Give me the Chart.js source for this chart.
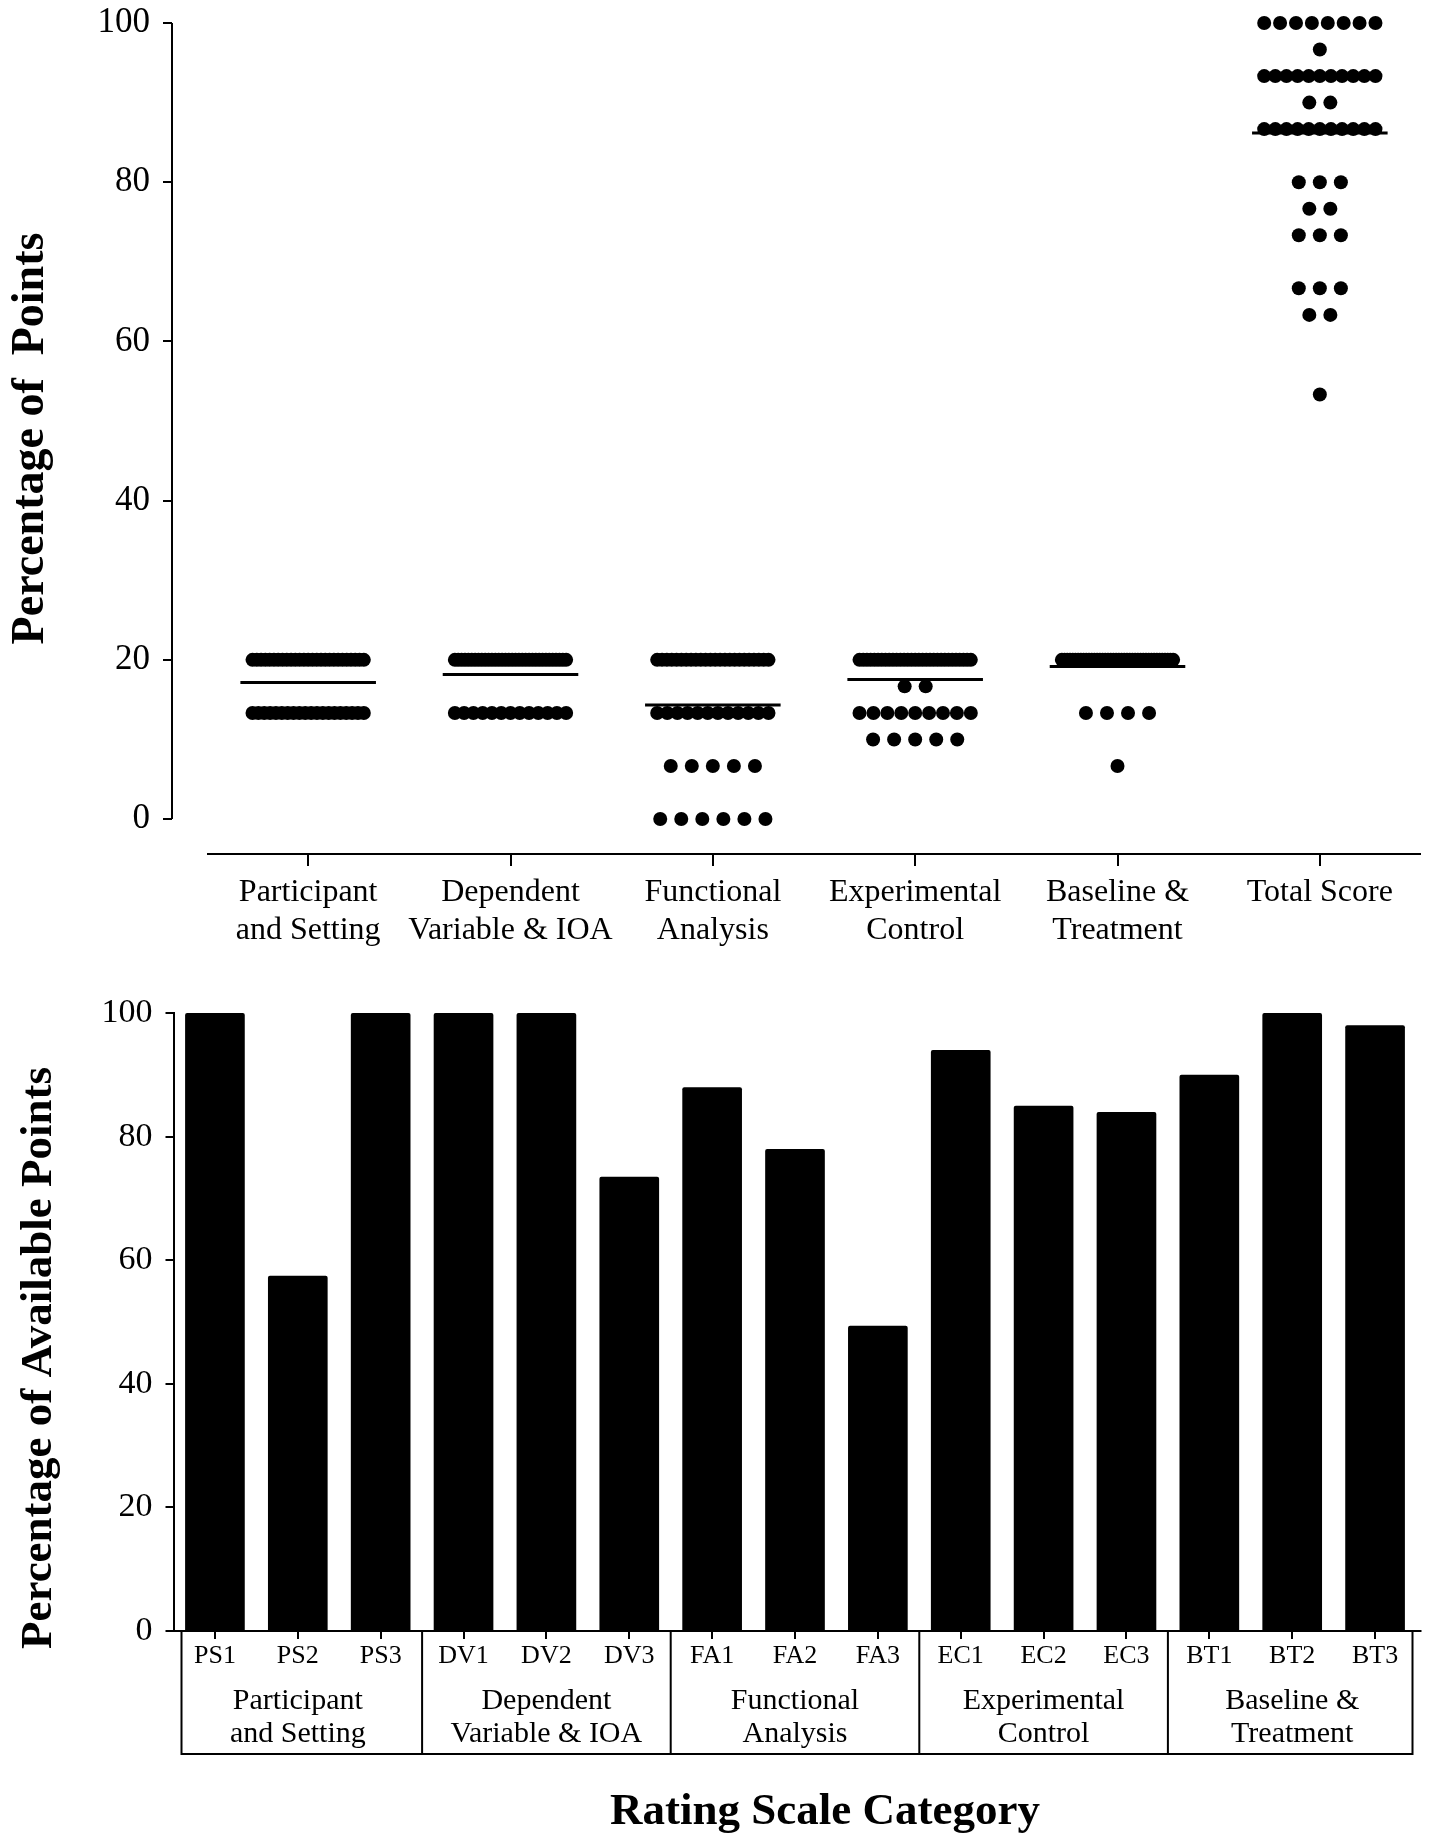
<!DOCTYPE html>
<html>
<head>
<meta charset="utf-8">
<script src="https://cdn.jsdelivr.net/npm/chart.js@4.4.0/dist/chart.umd.min.js"></script>
<style>
  html, body { margin: 0; padding: 0; background: #fff; }
  canvas { display: block; }
</style>
</head>
<body>
<canvas id="dotChart" width="1430" height="975"></canvas>
<canvas id="barChart" width="1430" height="873"></canvas>
<script>
// top panel: each study's score per category (score level + number of studies at it)
const dotCategories = [['Participant', 'and Setting'], ['Dependent', 'Variable & IOA'], ['Functional', 'Analysis'],
  ['Experimental', 'Control'], ['Baseline &', 'Treatment'], ['Total Score']];

const psScores = [20, 13.33];
const psCounts = [27, 20];
const dvScores = [20, 13.33];
const dvCounts = [34, 13];
const faScores = [20, 13.33, 6.67, 0];
const faCounts = [24, 12, 5, 6];
const ecScores = [20, 16.67, 13.33, 10];
const ecCounts = [31, 2, 9, 5];
const btScores = [20, 13.33, 6.67];
const btCounts = [42, 4, 1];
const totalScores = [100, 96.67, 93.33, 90, 86.67, 80, 76.67, 73.33, 66.67, 63.33, 53.33];
const totalCounts = [8, 1, 11, 2, 11, 3, 2, 3, 3, 2, 1];

const yTicks = [0, 20, 40, 60, 80, 100];

// bottom panel: percentage of available points per rating item
const itemLabels = ['PS1', 'PS2', 'PS3', 'DV1', 'DV2', 'DV3', 'FA1', 'FA2', 'FA3', 'EC1', 'EC2', 'EC3', 'BT1', 'BT2', 'BT3'];
const itemValues = [100, 57.5, 100, 100, 100, 73.5, 88, 78, 49.4, 94, 85, 84, 90, 100, 98];
const groupLabels = [['Participant', 'and Setting'], ['Dependent', 'Variable & IOA'], ['Functional', 'Analysis'],
  ['Experimental', 'Control'], ['Baseline &', 'Treatment']];

const FONT = 'Liberation Serif';
Chart.defaults.font.family = FONT;
Chart.defaults.color = '#000';

const rows = [[psScores, psCounts], [dvScores, dvCounts], [faScores, faCounts],
  [ecScores, ecCounts], [btScores, btCounts], [totalScores, totalCounts]];

// spread the dots of one score level side by side around the category
function dotRow(scores, counts, center) {
  const pts = [];
  scores.forEach((s, r) => {
    const n = counts[r];
    const span = Math.min((n - 1) * 0.104, 0.55);
    for (let k = 0; k < n; k++) {
      const dx = n > 1 ? -span / 2 + k * span / (n - 1) : 0;
      pts.push({x: center + dx, y: s});
    }
  });
  return pts;
}

function mean(scores, counts) {
  let sum = 0, n = 0;
  scores.forEach((s, i) => { sum += s * counts[i]; n += counts[i]; });
  return sum / n;
}

const dotSets = [];
rows.forEach(([s, c], i) => {
  const m = mean(s, c);
  dotSets.push({
    data: [{x: i - 0.335, y: m}, {x: i + 0.335, y: m}],
    showLine: true, borderColor: '#000', borderWidth: 3, pointRadius: 0, clip: false
  });
});
rows.forEach(([s, c], i) => {
  dotSets.push({
    data: dotRow(s, c, i),
    pointRadius: 7, backgroundColor: '#000', borderWidth: 0, clip: false
  });
});

// drop the label half-height padding so the layout padding sets the plot top
function noEdgePadding(s) {
  s.paddingTop = 0;
  s.paddingBottom = 0;
}

// axis lines that stop short of each other, like the original
const detachedAxes = {
  id: 'detachedAxes',
  afterDraw(chart) {
    const {ctx, chartArea, scales: {x, y}} = chart;
    ctx.save();
    ctx.strokeStyle = '#000';
    ctx.lineWidth = 2;
    ctx.beginPath();
    ctx.moveTo(chartArea.left, y.getPixelForValue(100));
    ctx.lineTo(chartArea.left, y.getPixelForValue(0));
    ctx.moveTo(x.getPixelForValue(-0.5), chartArea.bottom);
    ctx.lineTo(x.getPixelForValue(dotCategories.length - 0.5), chartArea.bottom);
    ctx.stroke();
    ctx.restore();
  }
};

new Chart(document.getElementById('dotChart'), {
  type: 'scatter',
  data: {datasets: dotSets},
  options: {
    responsive: false,
    animation: false,
    devicePixelRatio: 1,
    layout: {padding: {top: 23, right: 9, left: 0, bottom: 0}},
    plugins: {legend: {display: false}, tooltip: {enabled: false}},
    scales: {
      x: {
        type: 'linear', min: -0.673, max: 5.5,
        afterBuildTicks: s => { s.ticks = dotCategories.map((_, i) => ({value: i})); },
        afterFit: s => { s.height = 121; },
        ticks: {
          callback: v => dotCategories[v],
          font: {size: 32}, padding: 7, autoSkip: false, maxRotation: 0
        },
        grid: {drawOnChartArea: false, tickLength: 12, color: '#000', lineWidth: 2},
        border: {display: false}
      },
      y: {
        min: -4.39, max: 100,
        afterBuildTicks: s => { s.ticks = yTicks.map(v => ({value: v})); },
        afterFit: s => { s.width = 172; noEdgePadding(s); },
        ticks: {font: {size: 35}, padding: 13},
        grid: {drawOnChartArea: false, tickLength: 9, color: '#000', lineWidth: 2},
        border: {display: false},
        title: {display: true, text: 'Percentage of  Points', font: {size: 46, weight: 'bold'}, padding: {top: 4, bottom: 0}}
      }
    }
  },
  plugins: [detachedAxes]
});

// box under the bars grouping the items, plus the axis titles
const categoryBox = {
  id: 'categoryBox',
  afterDraw(chart) {
    const {ctx, chartArea, scales: {x}} = chart;
    const half = (x.getPixelForValue(1) - x.getPixelForValue(0)) / 2;
    const top = chartArea.bottom;
    const bottom = chartArea.bottom + 123;
    const left = chartArea.left + 8;
    const right = chartArea.right - 4;
    ctx.save();
    ctx.strokeStyle = '#000';
    ctx.lineWidth = 2;
    ctx.beginPath();
    ctx.moveTo(chartArea.right, top);
    ctx.lineTo(chartArea.right + 5, top);
    ctx.moveTo(left, top);
    ctx.lineTo(left, bottom);
    for (let g = 1; g < groupLabels.length; g++) {
      const px = x.getPixelForValue(g * 3) - half;
      ctx.moveTo(px, top);
      ctx.lineTo(px, bottom);
    }
    ctx.moveTo(right, top);
    ctx.lineTo(right, bottom);
    ctx.moveTo(left - 1, bottom);
    ctx.lineTo(right + 1, bottom);
    ctx.stroke();

    ctx.fillStyle = '#000';
    ctx.font = 'bold 45px ' + FONT;
    ctx.textAlign = 'center';
    ctx.textBaseline = 'middle';
    ctx.fillText('Rating Scale Category', (chartArea.left + chartArea.right) / 2 + 30, bottom + 58);
    ctx.translate(39, (chartArea.top + chartArea.bottom) / 2 + 36);
    ctx.rotate(-Math.PI / 2);
    ctx.fillText('Percentage of Available Points', 0, 0);
    ctx.restore();
  }
};

new Chart(document.getElementById('barChart'), {
  type: 'bar',
  data: {
    labels: itemLabels,
    datasets: [{data: itemValues, backgroundColor: '#000', barPercentage: 0.72, categoryPercentage: 1, borderRadius: 2}]
  },
  options: {
    responsive: false,
    animation: false,
    devicePixelRatio: 1,
    layout: {padding: {top: 38, right: 13.5, left: 0, bottom: 0}},
    plugins: {legend: {display: false}, tooltip: {enabled: false}},
    scales: {
      x: {
        weight: 0,
        afterFit: s => { s.height = 46; },
        ticks: {font: {size: 26}, padding: 2, autoSkip: false, maxRotation: 0},
        grid: {drawOnChartArea: false, offset: false, tickLength: 8, color: '#000', lineWidth: 2},
        border: {display: true, color: '#000', width: 2}
      },
      x2: {
        type: 'category', labels: groupLabels, position: 'bottom', weight: 1,
        afterFit: s => { s.height = 171; },
        ticks: {font: {size: 30, lineHeight: 1.1}, padding: 8, autoSkip: false, maxRotation: 0},
        grid: {display: false, drawTicks: false},
        border: {display: false}
      },
      y: {
        min: 0, max: 100,
        afterBuildTicks: s => { s.ticks = yTicks.map(v => ({value: v})); },
        afterFit: s => { s.width = 173.5; noEdgePadding(s); },
        ticks: {font: {size: 34}, padding: 13},
        grid: {drawOnChartArea: false, tickLength: 8, color: '#000', lineWidth: 2},
        border: {display: true, color: '#000', width: 2}
      }
    }
  },
  plugins: [categoryBox]
});
</script>
</body>
</html>
